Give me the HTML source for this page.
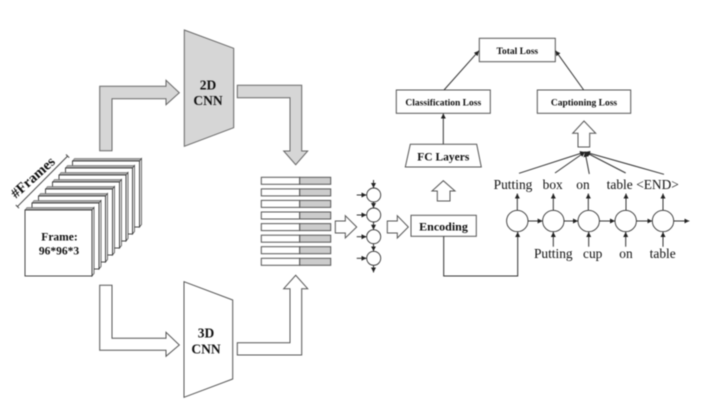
<!DOCTYPE html>
<html>
<head>
<meta charset="utf-8">
<style>
html,body{margin:0;padding:0;background:#fff;width:703px;height:403px;overflow:hidden}
svg{display:block;filter:blur(0.4px)}
text{font-family:"Liberation Serif",serif;fill:#111;text-anchor:middle}
.b{font-weight:bold}
.s{fill:none;stroke:#444;stroke-width:1}
.a{fill:none;stroke:#333;stroke-width:1;marker-end:url(#m)}
.w{fill:#fff;stroke:#555;stroke-width:1}
.g{fill:#d6d6d6;stroke:#666;stroke-width:1}
.f{fill:#fff;stroke:#333;stroke-width:.9}
.t{fill:#aaa;stroke:#555;stroke-width:.6}
.r{fill:#fff;stroke:#444;stroke-width:.8}
</style>
</head>
<body>
<svg width="703" height="403" viewBox="0 0 703 403" xmlns="http://www.w3.org/2000/svg">
<defs>
<marker id="m" markerWidth="6" markerHeight="6" refX="5" refY="2.5" orient="auto" markerUnits="userSpaceOnUse"><path d="M0,0 L5,2.5 L0,5 Z" fill="#222"/></marker>
</defs>

<!-- frames -->
<g transform="translate(72.5,161)"><polygon class="t" points="0,0 2,-2.5 69,-2.5 67,0"/><polygon class="r" points="67,0 69,-2.5 69,63.5 67,66"/><rect class="f" width="67" height="66"/></g>
<g transform="translate(65.5,168)"><polygon class="t" points="0,0 2,-2.5 69,-2.5 67,0"/><polygon class="r" points="67,0 69,-2.5 69,63.5 67,66"/><rect class="f" width="67" height="66"/></g>
<g transform="translate(59,175)"><polygon class="t" points="0,0 2,-2.5 69,-2.5 67,0"/><polygon class="r" points="67,0 69,-2.5 69,63.5 67,66"/><rect class="f" width="67" height="66"/></g>
<g transform="translate(52.5,182)"><polygon class="t" points="0,0 2,-2.5 69,-2.5 67,0"/><polygon class="r" points="67,0 69,-2.5 69,63.5 67,66"/><rect class="f" width="67" height="66"/></g>
<g transform="translate(45.5,189)"><polygon class="t" points="0,0 2,-2.5 69,-2.5 67,0"/><polygon class="r" points="67,0 69,-2.5 69,63.5 67,66"/><rect class="f" width="67" height="66"/></g>
<g transform="translate(38.5,196)"><polygon class="t" points="0,0 2,-2.5 69,-2.5 67,0"/><polygon class="r" points="67,0 69,-2.5 69,63.5 67,66"/><rect class="f" width="67" height="66"/></g>
<g transform="translate(32,203)"><polygon class="t" points="0,0 2,-2.5 69,-2.5 67,0"/><polygon class="r" points="67,0 69,-2.5 69,63.5 67,66"/><rect class="f" width="67" height="66"/></g>
<g transform="translate(25,210)"><polygon class="t" points="0,0 2,-2.5 69,-2.5 67,0"/><polygon class="r" points="67,0 69,-2.5 69,63.5 67,66"/><rect class="f" width="67" height="66"/></g>
<text class="b" x="59.5" y="240.5" font-size="11.5">Frame:</text>
<text class="b" x="59" y="254.5" font-size="11.5">96*96*3</text>
<line class="s" x1="17.3" y1="206.7" x2="67.7" y2="156"/>
<line class="s" x1="15.8" y1="205" x2="19" y2="208.2"/>
<line class="s" x1="66" y1="154.5" x2="69.2" y2="157.7"/>
<text class="b" x="33" y="182" font-size="14.5" transform="rotate(-42 33 177.7)">#Frames</text>

<!-- 2D path -->
<polygon class="g" points="99.7,150.7 99.7,86.3 166,86.3 166,80.3 179.3,92.7 166,104.7 166,98.7 112,98.7 112,150.7"/>
<polygon class="g" points="184.3,30 233.7,48.3 233.7,127.7 184.3,146.3"/>
<text class="b" x="208" y="89.5" font-size="13.5">2D</text>
<text class="b" x="208" y="105" font-size="13.5">CNN</text>
<polygon class="g" points="237.3,85.3 301.7,85.3 301.7,151 307.7,151 295.7,164.7 283.7,151 290,151 290,97.7 237.3,97.7"/>

<!-- 3D path -->
<polygon class="w" points="99.7,285.3 112,285.3 112,338.3 166,338.3 166,332.3 179.3,345 166,356.3 166,350.3 99.7,350.3"/>
<polygon class="w" points="184,281.7 232.7,300 232.7,379 184,397.3"/>
<text class="b" x="206" y="337.5" font-size="13.5">3D</text>
<text class="b" x="206" y="353.5" font-size="13.5">CNN</text>
<polygon class="w" points="237.3,342.7 290,342.7 290,288.7 283.7,288.7 295.7,275.3 307.7,288.7 301.7,288.7 301.7,355 237.3,355"/>

<!-- feature bars -->
<g stroke="#555" stroke-width="1">
<rect x="261.3" y="177.3" width="38.4" height="7" fill="#fff"/><rect x="299.7" y="177.3" width="31" height="7" fill="#ccc"/>
<rect x="261.3" y="188.9" width="38.4" height="7" fill="#fff"/><rect x="299.7" y="188.9" width="31" height="7" fill="#ccc"/>
<rect x="261.3" y="200.4" width="38.4" height="7" fill="#fff"/><rect x="299.7" y="200.4" width="31" height="7" fill="#ccc"/>
<rect x="261.3" y="212" width="38.4" height="7" fill="#fff"/><rect x="299.7" y="212" width="31" height="7" fill="#ccc"/>
<rect x="261.3" y="223.6" width="38.4" height="7" fill="#fff"/><rect x="299.7" y="223.6" width="31" height="7" fill="#ccc"/>
<rect x="261.3" y="235.2" width="38.4" height="7" fill="#fff"/><rect x="299.7" y="235.2" width="31" height="7" fill="#ccc"/>
<rect x="261.3" y="246.7" width="38.4" height="7" fill="#fff"/><rect x="299.7" y="246.7" width="31" height="7" fill="#ccc"/>
<rect x="261.3" y="258.3" width="38.4" height="7" fill="#fff"/><rect x="299.7" y="258.3" width="31" height="7" fill="#ccc"/>
</g>
<polygon class="w" points="335.3,221 345.3,221 345.3,215.7 356.7,227 345.3,238 345.3,233 335.3,233"/>

<!-- small RNN -->
<ellipse class="f" cx="373.7" cy="195" rx="7" ry="7"/>
<ellipse class="f" cx="373.7" cy="215" rx="7" ry="7"/>
<ellipse class="f" cx="373.7" cy="236.7" rx="7" ry="7"/>
<ellipse class="f" cx="373.7" cy="258.3" rx="7" ry="7"/>
<line class="a" x1="373.5" y1="180" x2="373.5" y2="188"/>
<line class="a" x1="373.5" y1="202" x2="373.5" y2="208"/>
<line class="a" x1="373.5" y1="222" x2="373.5" y2="229.7"/>
<line class="a" x1="373.5" y1="243.7" x2="373.5" y2="251.3"/>
<line class="a" x1="373.5" y1="265.3" x2="373.5" y2="272.5"/>
<line class="a" x1="356.7" y1="195" x2="366.5" y2="195"/>
<line class="a" x1="356.7" y1="215" x2="366.5" y2="215"/>
<line class="a" x1="356.7" y1="236.7" x2="366.5" y2="236.7"/>
<line class="a" x1="356.7" y1="258.3" x2="366.5" y2="258.3"/>

<polygon class="w" points="387.3,221 397.3,221 397.3,215.7 408.3,227 397.3,238 397.3,233 387.3,233"/>

<!-- Encoding -->
<rect class="w" x="411" y="215.3" width="65.3" height="21"/>
<text class="b" x="443.5" y="230.5" font-size="12">Encoding</text>
<polyline class="a" points="443.7,236.3 443.7,276 517.7,276 517.7,232"/>

<polygon class="w" points="437.3,201 450,201 450,191 455,191 443.3,180.7 432,191 437.3,191"/>
<polygon class="w" points="410.3,144.3 476.7,144.3 481.3,167 405.3,167"/>
<text class="b" x="443.3" y="160.5" font-size="11.5">FC Layers</text>
<line class="a" x1="443.3" y1="144" x2="443.3" y2="113.5"/>

<!-- Loss boxes -->
<rect class="w" x="396.3" y="90" width="94" height="23.3"/>
<text class="b" x="443.3" y="105.5" font-size="9.5">Classification Loss</text>
<rect class="w" x="537.3" y="90" width="93.4" height="23.3"/>
<text class="b" x="584" y="105.5" font-size="9.5">Captioning Loss</text>
<rect class="w" x="479.3" y="38.3" width="76" height="23.4"/>
<text class="b" x="517.3" y="54" font-size="9.5">Total Loss</text>
<line class="a" x1="444" y1="90" x2="479" y2="50.7"/>
<line class="a" x1="583.7" y1="90" x2="555.5" y2="50.7"/>

<polygon class="w" points="578,147 589.7,147 589.7,133.3 595.7,133.3 584,121 572.7,133.3 578,133.3"/>

<!-- converging arrows -->
<line class="a" x1="519" y1="173.3" x2="585" y2="152"/>
<line class="a" x1="555" y1="173" x2="585" y2="152"/>
<line class="a" x1="589.3" y1="174" x2="585" y2="152"/>
<line class="a" x1="625.7" y1="173" x2="585" y2="152"/>
<line class="a" x1="664" y1="174.3" x2="585" y2="152"/>

<!-- caption labels -->
<g font-size="13.4">
<text x="513" y="189">Putting</text>
<text x="552.7" y="189">box</text>
<text x="583" y="189">on</text>
<text x="619.7" y="189">table</text>
<text x="657.5" y="189">&lt;END&gt;</text>
<text x="553.3" y="258">Putting</text>
<text x="592.7" y="258">cup</text>
<text x="626" y="258">on</text>
<text x="662.7" y="258">table</text>
</g>

<!-- decoder RNN -->
<circle class="f" cx="517.3" cy="221" r="10.7"/>
<circle class="f" cx="553.3" cy="221" r="10.7"/>
<circle class="f" cx="588.7" cy="221" r="10.7"/>
<circle class="f" cx="625.7" cy="221" r="10.7"/>
<circle class="f" cx="663" cy="221" r="10.7"/>
<line class="a" x1="528" y1="221" x2="542.6" y2="221"/>
<line class="a" x1="564" y1="221" x2="578" y2="221"/>
<line class="a" x1="599.4" y1="221" x2="615" y2="221"/>
<line class="a" x1="636.4" y1="221" x2="652.3" y2="221"/>
<line class="a" x1="673.7" y1="221" x2="689.3" y2="221"/>
<line class="a" x1="517.3" y1="210" x2="517.3" y2="193.5"/>
<line class="a" x1="553.3" y1="210" x2="553.3" y2="193.5"/>
<line class="a" x1="588.3" y1="210" x2="588.3" y2="193.5"/>
<line class="a" x1="626" y1="210" x2="626" y2="193.5"/>
<line class="a" x1="663" y1="210" x2="663" y2="193.5"/>
<line class="a" x1="553.3" y1="246.7" x2="553.3" y2="232"/>
<line class="a" x1="588.7" y1="246.7" x2="588.7" y2="232"/>
<line class="a" x1="625.7" y1="246.7" x2="625.7" y2="232"/>
<line class="a" x1="663" y1="246.7" x2="663" y2="232"/>
</svg>
</body>
</html>
